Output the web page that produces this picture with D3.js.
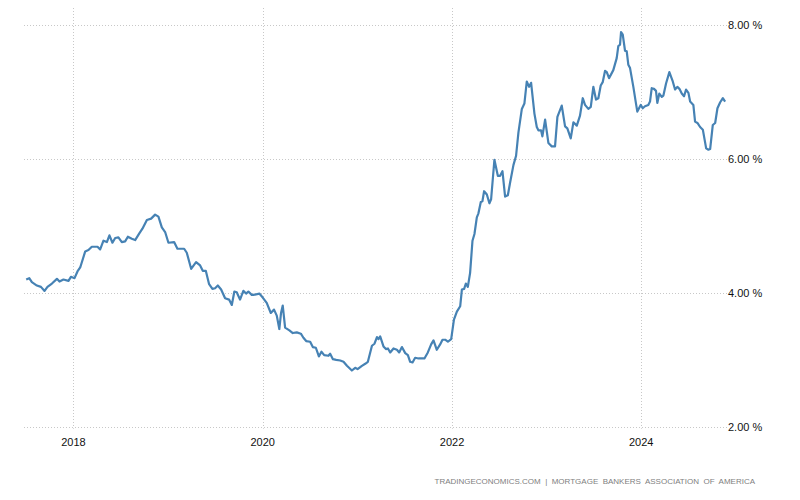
<!DOCTYPE html>
<html>
<head>
<meta charset="utf-8">
<script src="https://cdn.jsdelivr.net/npm/d3@7"></script>
<style>
  html, body { margin: 0; padding: 0; background: #fff; }
  svg { display: block; }
  text { font-family: "Liberation Sans", Arial, sans-serif; }
</style>
</head>
<body>
<svg id="chart" width="800" height="500"></svg>
<script>
// Dates as decimal years, weekly-ish sampling
const dates = [
  2017.500, 2017.532, 2017.560, 2017.613, 2017.656, 2017.694, 2017.725, 2017.772, 2017.825, 2017.852,
  2017.894, 2017.947, 2017.973, 2018.011, 2018.042, 2018.071, 2018.124, 2018.158, 2018.194, 2018.254,
  2018.282, 2018.317, 2018.353, 2018.380, 2018.412, 2018.441, 2018.475, 2018.511, 2018.546, 2018.575,
  2018.617, 2018.652, 2018.696, 2018.729, 2018.776, 2018.821, 2018.863, 2018.898, 2018.934, 2018.969,
  2019.004, 2019.064, 2019.099, 2019.170, 2019.198, 2019.244, 2019.296, 2019.339, 2019.367, 2019.399,
  2019.434, 2019.469, 2019.497, 2019.526, 2019.561, 2019.603, 2019.645, 2019.674, 2019.701, 2019.726,
  2019.761, 2019.796, 2019.825, 2019.849, 2019.885, 2019.902, 2019.965, 2020.001, 2020.043, 2020.086,
  2020.120, 2020.149, 2020.176, 2020.194, 2020.212, 2020.237, 2020.282, 2020.318, 2020.360, 2020.403,
  2020.430, 2020.459, 2020.501, 2020.529, 2020.561, 2020.593, 2020.620, 2020.649, 2020.694, 2020.712,
  2020.741, 2020.776, 2020.818, 2020.853, 2020.889, 2020.941, 2020.976, 2021.001, 2021.047, 2021.082,
  2021.110, 2021.153, 2021.180, 2021.206, 2021.222, 2021.240, 2021.275, 2021.301, 2021.322, 2021.346,
  2021.381, 2021.417, 2021.441, 2021.470, 2021.505, 2021.533, 2021.557, 2021.582, 2021.610, 2021.645,
  2021.708, 2021.744, 2021.779, 2021.804, 2021.839, 2021.874, 2021.899, 2021.927, 2021.956, 2021.991,
  2022.020, 2022.051, 2022.086, 2022.104, 2022.128, 2022.146, 2022.167, 2022.191, 2022.216, 2022.237,
  2022.262, 2022.279, 2022.304, 2022.321, 2022.339, 2022.368, 2022.395, 2022.413, 2022.448, 2022.484,
  2022.508, 2022.533, 2022.561, 2022.590, 2022.614, 2022.649, 2022.677, 2022.702, 2022.738, 2022.765,
  2022.790, 2022.815, 2022.836, 2022.871, 2022.896, 2022.913, 2022.941, 2022.955, 2022.984, 2023.019,
  2023.054, 2023.089, 2023.114, 2023.160, 2023.195, 2023.219, 2023.255, 2023.283, 2023.319, 2023.353,
  2023.382, 2023.406, 2023.441, 2023.467, 2023.494, 2023.522, 2023.547, 2023.572, 2023.593, 2023.618,
  2023.636, 2023.660, 2023.705, 2023.741, 2023.758, 2023.776, 2023.787, 2023.805, 2023.829, 2023.847,
  2023.864, 2023.882, 2023.917, 2023.945, 2023.959, 2023.995, 2024.016, 2024.040, 2024.075, 2024.093,
  2024.111, 2024.135, 2024.156, 2024.170, 2024.191, 2024.217, 2024.234, 2024.262, 2024.297, 2024.333,
  2024.357, 2024.381, 2024.403, 2024.428, 2024.452, 2024.473, 2024.498, 2024.516, 2024.550, 2024.568,
  2024.593, 2024.621, 2024.650, 2024.685, 2024.709, 2024.727, 2024.755, 2024.780, 2024.804, 2024.833,
  2024.861, 2024.885
];
const rates = [
  4.20, 4.22, 4.16, 4.11, 4.09, 4.03, 4.09, 4.14, 4.21, 4.17,
  4.20, 4.18, 4.24, 4.22, 4.32, 4.38, 4.62, 4.64, 4.69, 4.69,
  4.65, 4.78, 4.76, 4.86, 4.75, 4.82, 4.83, 4.76, 4.77, 4.84,
  4.81, 4.79, 4.89, 4.96, 5.09, 5.11, 5.17, 5.14, 4.98, 4.91,
  4.75, 4.76, 4.66, 4.66, 4.60, 4.36, 4.46, 4.41, 4.33, 4.33,
  4.13, 4.06, 4.07, 4.11, 4.05, 3.92, 3.90, 3.82, 4.02, 4.01,
  3.90, 4.03, 3.99, 4.02, 3.97, 3.97, 3.99, 3.93, 3.85, 3.70,
  3.75, 3.66, 3.46, 3.70, 3.81, 3.48, 3.44, 3.40, 3.41, 3.39,
  3.33, 3.28, 3.27, 3.19, 3.18, 3.05, 3.12, 3.07, 3.06, 3.09,
  3.01, 3.00, 2.99, 2.97, 2.91, 2.84, 2.88, 2.86, 2.91, 2.94,
  2.97, 3.21, 3.24, 3.34, 3.31, 3.35, 3.20, 3.16, 3.17, 3.11,
  3.17, 3.15, 3.11, 3.19, 3.10, 3.07, 2.97, 2.96, 3.03, 3.02,
  3.02, 3.11, 3.23, 3.29, 3.15, 3.23, 3.30, 3.30, 3.27, 3.31,
  3.60, 3.72, 3.80, 4.05, 4.06, 4.14, 4.09, 4.30, 4.78, 4.88,
  5.13, 5.19, 5.36, 5.37, 5.52, 5.47, 5.34, 5.40, 5.99, 5.75,
  5.75, 5.82, 5.44, 5.46, 5.65, 5.91, 6.05, 6.40, 6.75, 6.83,
  7.16, 7.08, 7.14, 6.68, 6.48, 6.43, 6.43, 6.34, 6.59, 6.24,
  6.19, 6.19, 6.63, 6.80, 6.49, 6.46, 6.31, 6.55, 6.50, 6.65,
  6.91, 6.81, 6.75, 6.78, 7.08, 6.89, 6.91, 7.10, 7.15, 7.32,
  7.30, 7.21, 7.33, 7.51, 7.69, 7.71, 7.90, 7.86, 7.62, 7.61,
  7.41, 7.36, 7.08, 6.83, 6.71, 6.81, 6.76, 6.79, 6.81, 6.86,
  7.06, 7.05, 7.02, 6.84, 6.98, 6.93, 6.95, 7.13, 7.30, 7.16,
  7.04, 7.08, 7.05, 6.98, 6.94, 7.04, 6.99, 6.86, 6.81, 6.56,
  6.54, 6.48, 6.44, 6.16, 6.14, 6.15, 6.51, 6.54, 6.76, 6.85,
  6.91, 6.86
];
const yTicks = [2, 4, 6, 8];
const xTickYears = [2018, 2020, 2022, 2024];
const xDomain = ["2017-06-24", "2024-12-01"];
const sourceText = "TRADINGECONOMICS.COM  |  MORTGAGE  BANKERS  ASSOCIATION  OF  AMERICA";

function decToDate(v) {
  const yr = Math.floor(v);
  const s = Date.UTC(yr, 0, 1), e = Date.UTC(yr + 1, 0, 1);
  return new Date(s + (v - yr) * (e - s));
}

(function () {
  const data = dates.map((d, i) => ({ date: decToDate(d), value: rates[i] }));

  const svg = d3.select("#chart");
  const mLeft = 24, mRight = 728, mTop = 25.3, mBottom = 426.7;

  const x = d3.scaleUtc()
    .domain(xDomain.map(s => new Date(s + "T00:00:00Z")))
    .range([mLeft, mRight]);
  const y = d3.scaleLinear().domain([2, 8]).range([mBottom, mTop]);

  const gridColor = "#c8c8c8";

  // horizontal grid
  svg.append("g").selectAll("line").data(yTicks).join("line")
    .attr("x1", mLeft).attr("x2", mRight)
    .attr("y1", d => Math.round(y(d)) + 0.5).attr("y2", d => Math.round(y(d)) + 0.5)
    .attr("stroke", gridColor).attr("stroke-width", 1).attr("stroke-dasharray", "1,2");

  // vertical grid
  const xTickDates = xTickYears.map(yy => new Date(Date.UTC(yy, 0, 1)));
  svg.append("g").selectAll("line").data(xTickDates).join("line")
    .attr("x1", d => Math.round(x(d)) + 0.5).attr("x2", d => Math.round(x(d)) + 0.5)
    .attr("y1", 8).attr("y2", mBottom + 2)
    .attr("stroke", gridColor).attr("stroke-width", 1).attr("stroke-dasharray", "1,2");

  // right axis labels
  svg.append("g").selectAll("text").data(yTicks).join("text")
    .attr("x", mRight).attr("y", d => y(d) + 4)
    .attr("font-size", 11).attr("fill", "#111")
    .text(d => d3.format(".2f")(d) + " %");

  // bottom axis labels
  svg.append("g").selectAll("text").data(xTickDates).join("text")
    .attr("x", d => x(d)).attr("y", 446)
    .attr("text-anchor", "middle")
    .attr("font-size", 11).attr("fill", "#111")
    .text(d => d3.utcFormat("%Y")(d));

  // line
  const line = d3.line().x(d => x(d.date)).y(d => y(d.value));
  svg.append("path").datum(data)
    .attr("d", line)
    .attr("fill", "none")
    .attr("stroke", "#4682b4")
    .attr("stroke-width", 2.2)
    .attr("stroke-linejoin", "round");

  // source
  svg.append("text")
    .attr("x", 755).attr("y", 484)
    .attr("text-anchor", "end")
    .attr("font-size", 8).attr("fill", "#808080")
    .attr("xml:space", "preserve")
    .style("white-space", "pre")
    .text(sourceText);
})();
</script>
</body>
</html>
